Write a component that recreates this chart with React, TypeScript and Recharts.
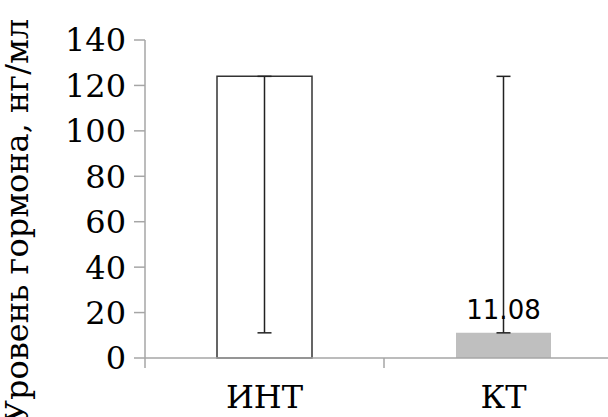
import React from 'react';
import { BarChart, Bar, XAxis, YAxis, ErrorBar, Cell, LabelList, Label } from 'recharts';

const categories = ['ИНТ', 'КТ'];
const hormoneLevel = [124, 11.08];
const errorRange: [number, number][] = [[112.92, 0], [0, 112.92]];
const yTicks = [0, 20, 40, 60, 80, 100, 120, 140];
const barFills = ['#ffffff', '#bfbfbf'];
const barStrokes = ['#333333', 'none'];
const shownLabels = [false, true];

const data = categories.map((name, i) => ({
  name,
  value: hormoneLevel[i],
  err: errorRange[i],
}));

const serif = 'DejaVu Serif';

const CategoryTick = (props: any) => {
  const { x, y, payload, width } = props;
  const band = width / categories.length;
  const left = x - band / 2;
  return (
    <g>
      <line x1={left} y1={y - 8} x2={left} y2={y + 2} stroke="#a6a6a6" strokeWidth={1.5} />
      <text x={x} y={y + 42} textAnchor="middle" fontFamily={serif} fontSize={32} fill="#000">
        {payload.value}
      </text>
    </g>
  );
};

const ValueLabel = (props: any) => {
  const { x, y, width, value, index } = props;
  if (!shownLabels[index]) return null;
  return (
    <text x={x + width / 2} y={y - 14} textAnchor="middle" fontFamily="DejaVu Sans" fontSize={26} fill="#000">
      {value}
    </text>
  );
};

export default function App() {
  return (
    <div style={{ position: 'absolute', left: 0, top: 0 }}>
      <BarChart width={623} height={417} data={data} margin={{ top: 40, right: 0, bottom: 0, left: 0 }}>
        <YAxis
          width={145}
          domain={[0, 140]}
          ticks={yTicks}
          interval={0}
          stroke="#a6a6a6"
          strokeWidth={1.5}
          tickSize={11}
          tickMargin={8}
          tick={{ fontFamily: serif, fontSize: 32, fill: '#000' }}
        >
          <Label
            value="Уровень гормона, нг/мл"
            angle={-90}
            position="insideLeft"
            dx={12}
            dy={22}
            style={{ fontFamily: serif, fontSize: 32, fill: '#000', textAnchor: 'middle' }}
          />
        </YAxis>
        <XAxis
          dataKey="name"
          height={59}
          stroke="#a6a6a6"
          strokeWidth={1.5}
          tickLine={false}
          tick={<CategoryTick width={478} />}
          interval={0}
        />
        <Bar dataKey="value" barSize={95} isAnimationActive={false}>
          {data.map((d, i) => (
            <Cell key={d.name} fill={barFills[i]} stroke={barStrokes[i]} strokeWidth={1.5} />
          ))}
          <ErrorBar dataKey="err" width={7} stroke="#222" strokeWidth={1.5} direction="y" />
          <LabelList dataKey="value" content={<ValueLabel />} />
        </Bar>
      </BarChart>
    </div>
  );
}
